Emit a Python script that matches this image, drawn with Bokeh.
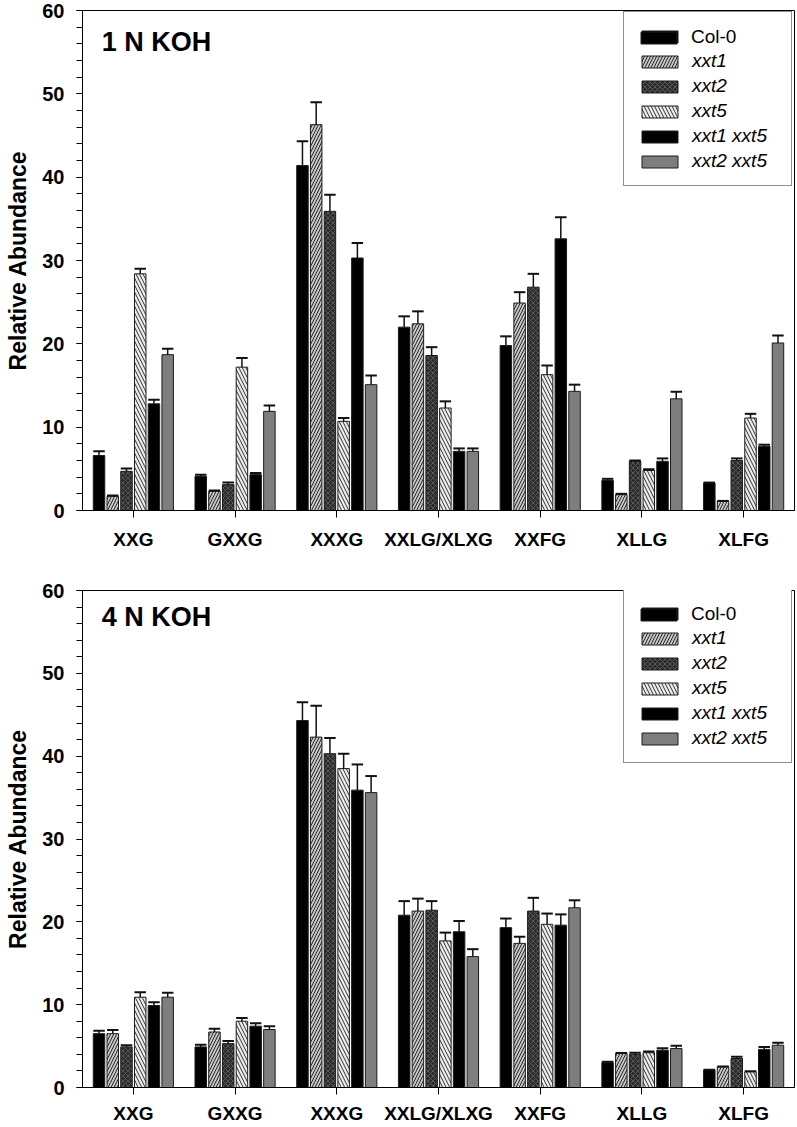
from bokeh.plotting import figure
from bokeh.models import (FixedTicker, SingleIntervalTicker, Range1d, Legend,
                          LegendItem, Label, ColumnDataSource)
from bokeh.layouts import column
from bokeh.embed import file_html
from bokeh.resources import INLINE

categories = ["XXG", "GXXG", "XXXG", "XXLG/XLXG", "XXFG", "XLLG", "XLFG"]
genotypes = ["Col-0", "xxt1", "xxt2", "xxt5", "xxt1 xxt5", "xxt2 xxt5"]
y_ticks_major = 10

# ---- 1 N KOH: means ----
koh1_col0      = [6.6, 4.1, 41.4, 22.0, 19.8, 3.6, 3.3]
koh1_xxt1      = [1.7, 2.3, 46.3, 22.4, 24.9, 1.9, 1.1]
koh1_xxt2      = [4.7, 3.1, 35.9, 18.6, 26.8, 5.9, 6.0]
koh1_xxt5      = [28.4, 17.2, 10.7, 12.3, 16.3, 4.8, 11.1]
koh1_xxt1xxt5  = [12.8, 4.3, 30.3, 7.1, 32.6, 5.9, 7.7]
koh1_xxt2xxt5  = [18.7, 11.9, 15.1, 7.1, 14.3, 13.4, 20.1]
# ---- 1 N KOH: errors ----
koh1_col0_err     = [0.5, 0.2, 2.9, 1.3, 1.1, 0.2, 0.05]
koh1_xxt1_err     = [0.1, 0.1, 2.7, 1.5, 1.3, 0.1, 0.05]
koh1_xxt2_err     = [0.35, 0.25, 2.0, 1.0, 1.6, 0.1, 0.25]
koh1_xxt5_err     = [0.6, 1.1, 0.4, 0.8, 1.1, 0.15, 0.5]
koh1_xxt1xxt5_err = [0.5, 0.2, 1.8, 0.35, 2.6, 0.35, 0.2]
koh1_xxt2xxt5_err = [0.7, 0.7, 1.1, 0.35, 0.8, 0.85, 0.9]

# ---- 4 N KOH: means ----
koh4_col0      = [6.5, 4.9, 44.3, 20.8, 19.3, 3.0, 2.1]
koh4_xxt1      = [6.5, 6.7, 42.3, 21.3, 17.4, 4.1, 2.5]
koh4_xxt2      = [4.9, 5.3, 40.3, 21.4, 21.3, 4.0, 3.5]
koh4_xxt5      = [10.9, 8.0, 38.5, 17.7, 19.7, 4.2, 1.9]
koh4_xxt1xxt5  = [9.9, 7.4, 35.9, 18.8, 19.6, 4.5, 4.6]
koh4_xxt2xxt5  = [10.9, 7.0, 35.6, 15.8, 21.7, 4.7, 5.1]
# ---- 4 N KOH: errors ----
koh4_col0_err     = [0.35, 0.25, 2.2, 1.7, 1.1, 0.1, 0.05]
koh4_xxt1_err     = [0.45, 0.4, 3.8, 1.5, 0.8, 0.05, 0.05]
koh4_xxt2_err     = [0.2, 0.3, 1.9, 1.1, 1.6, 0.2, 0.2]
koh4_xxt5_err     = [0.6, 0.4, 1.8, 1.0, 1.3, 0.15, 0.05]
koh4_xxt1xxt5_err = [0.4, 0.35, 3.1, 1.3, 1.3, 0.25, 0.3]
koh4_xxt2xxt5_err = [0.55, 0.4, 2.0, 0.9, 0.9, 0.35, 0.3]

koh1_means = [koh1_col0, koh1_xxt1, koh1_xxt2, koh1_xxt5, koh1_xxt1xxt5, koh1_xxt2xxt5]
koh1_errs = [koh1_col0_err, koh1_xxt1_err, koh1_xxt2_err, koh1_xxt5_err,
             koh1_xxt1xxt5_err, koh1_xxt2xxt5_err]
koh4_means = [koh4_col0, koh4_xxt1, koh4_xxt2, koh4_xxt5, koh4_xxt1xxt5, koh4_xxt2xxt5]
koh4_errs = [koh4_col0_err, koh4_xxt1_err, koh4_xxt2_err, koh4_xxt5_err,
             koh4_xxt1xxt5_err, koh4_xxt2xxt5_err]

FONT = "Liberation Sans"
STYLES = [
    dict(fill_color="#000000"),
    dict(fill_color="#c6c6c6", hatch_pattern="/", hatch_color="#000000",
         hatch_scale=6, hatch_weight=0.8),
    dict(fill_color="#2c2c2c", hatch_pattern="x", hatch_color="#6a6a6a",
         hatch_scale=5, hatch_weight=0.7),
    dict(fill_color="#ededed", hatch_pattern="\\", hatch_color="#000000",
         hatch_scale=7, hatch_weight=0.8),
    dict(fill_color="#000000"),
    dict(fill_color="#7e7e7e"),
]
PITCH = 0.135
BAR_W = 0.113
FRAME_H = 500
FRAME_W = 712
LEG_PAD = 13
LEG_ROW = 22
LEG_SP = 3
LEG_H = 2 * LEG_PAD + len(genotypes) * LEG_ROW + (len(genotypes) - 1) * LEG_SP


def make_panel(title, means, errs, border_top, border_bottom, label_standoff, title_off):
    p = figure(width=82 + FRAME_W + 2, height=border_top + FRAME_H + border_bottom,
               output_backend="svg", toolbar_location=None,
               x_range=Range1d(0, len(categories)), y_range=Range1d(0, 60),
               min_border_left=82, min_border_right=2,
               min_border_top=border_top, min_border_bottom=border_bottom)
    p.background_fill_color = "white"
    p.border_fill_color = "white"
    p.outline_line_color = "#000000"
    p.outline_line_width = 1
    p.xgrid.visible = False
    p.ygrid.visible = False

    renderers = []
    for k, (vals, err) in enumerate(zip(means, errs)):
        xs = [i + 0.5 + (k - 2.5) * PITCH for i in range(len(categories))]
        tops = [v + e for v, e in zip(vals, err)]
        src = ColumnDataSource(dict(
            x=xs, top=vals, up=tops,
            xl=[x - BAR_W / 2 for x in xs], xr=[x + BAR_W / 2 for x in xs]))
        r = p.vbar(x="x", top="top", bottom=0, width=BAR_W, source=src,
                   line_color="#1c1c1c", line_width=1, **STYLES[k])
        renderers.append(r)
        p.segment(x0="x", y0="top", x1="x", y1="up", source=src,
                  line_color="#111111", line_width=1.5)
        p.segment(x0="xl", y0="up", x1="xr", y1="up", source=src,
                  line_color="#111111", line_width=2)
    dummy = p.vbar(x=[], top=[], width=BAR_W, fill_alpha=0, line_alpha=0)

    # axes
    p.xaxis.ticker = FixedTicker(ticks=[i + 0.5 for i in range(len(categories))])
    p.xaxis.major_label_overrides = {i + 0.5: c for i, c in enumerate(categories)}
    p.xaxis.major_tick_in = 0
    p.xaxis.major_tick_out = 7
    p.xaxis.minor_tick_line_color = None
    p.xaxis.major_label_standoff = label_standoff
    p.xaxis.major_label_text_font = FONT
    p.xaxis.major_label_text_font_style = "bold"
    p.xaxis.major_label_text_font_size = "19px"
    p.xaxis.major_label_text_color = "#000000"
    p.xaxis.axis_line_color = "#000000"

    p.yaxis.ticker = SingleIntervalTicker(interval=y_ticks_major, num_minor_ticks=5)
    p.yaxis.major_tick_in = 0
    p.yaxis.major_tick_out = 6
    p.yaxis.minor_tick_in = 0
    p.yaxis.minor_tick_out = 6
    p.yaxis.major_label_standoff = 12
    p.yaxis.major_label_text_font = FONT
    p.yaxis.major_label_text_font_style = "bold"
    p.yaxis.major_label_text_font_size = "20px"
    p.yaxis.major_label_text_color = "#000000"
    p.yaxis.axis_label = "Relative Abundance"
    p.yaxis.axis_label_text_font = FONT
    p.yaxis.axis_label_text_font_style = "bold"
    p.yaxis.axis_label_text_font_size = "23px"
    p.yaxis.axis_label_text_color = "#000000"
    p.yaxis.axis_label_standoff = 8
    p.yaxis.axis_line_color = "#000000"

    p.add_layout(Label(x=0.19, y=60 - title_off * 60 / FRAME_H, text=title,
                       text_font=FONT, text_font_style="bold",
                       text_font_size="27px", text_baseline="middle",
                       text_color="#000000"))

    common = dict(glyph_width=45, glyph_height=15, label_height=LEG_ROW,
                  label_width=86, spacing=LEG_SP, padding=LEG_PAD,
                  label_standoff=10, label_text_font=FONT,
                  label_text_font_size="19px", label_text_color="#000000",
                  margin=0, location=(541, FRAME_H - 3 - LEG_H))
    legA = Legend(items=[LegendItem(label=" " if k == 0 else g, renderers=[renderers[k]])
                         for k, g in enumerate(genotypes)],
                  label_text_font_style="italic", border_line_color="#222222",
                  border_line_width=1, background_fill_color="white",
                  background_fill_alpha=1, **common)
    legB = Legend(items=[LegendItem(label=genotypes[0] if k == 0 else " ",
                                    renderers=[renderers[0] if k == 0 else dummy])
                         for k in range(len(genotypes))],
                  label_text_font_style="normal", border_line_alpha=0,
                  background_fill_alpha=0, **common)
    p.add_layout(legA)
    p.add_layout(legB)
    return p


p1 = make_panel("1 N KOH", koh1_means, koh1_errs, border_top=10,
                border_bottom=68, label_standoff=11, title_off=31)
p2 = make_panel("4 N KOH", koh4_means, koh4_errs, border_top=12,
                border_bottom=36, label_standoff=8, title_off=27)
page = column(p1, p2, spacing=0)
open("out.html", "w").write(file_html(page, INLINE))
